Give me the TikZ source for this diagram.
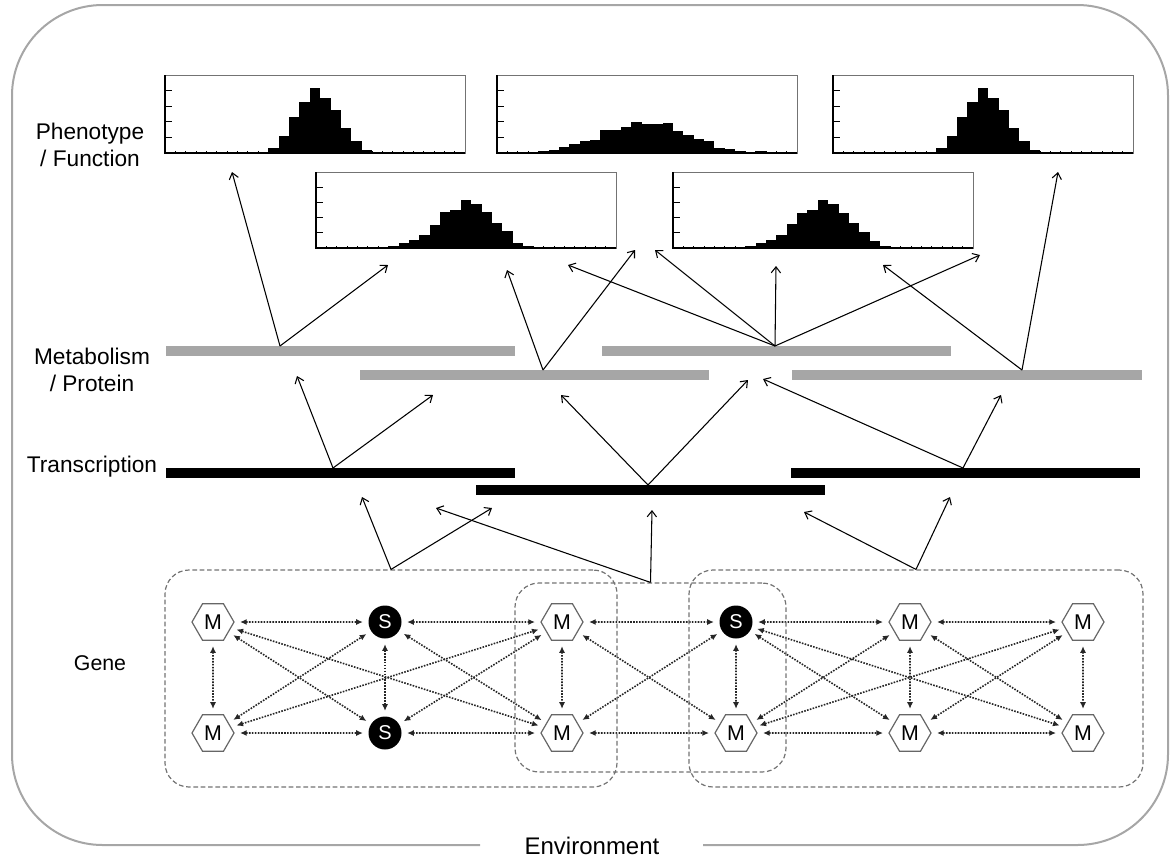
\documentclass[tikz,border=0pt]{standalone}
\usepackage{fontspec}
\setmainfont{Liberation Sans}
\usetikzlibrary{arrows.meta,shapes.geometric,fit}

\tikzset{
  lab/.style={font=\fontsize{17}{20}\selectfont, align=center},
  hexnode/.style={draw=black!60, line width=0.9pt, regular polygon, regular polygon sides=6,
    minimum size=31.5pt, inner sep=0pt, font=\fontsize{16}{16}\selectfont},
  snode/.style={circle, fill=black, text=white, minimum size=24.75pt, inner sep=0pt,
    font=\fontsize{15}{15}\selectfont},
  link/.style={black!85, line width=1.2pt, densely dotted,
    {Latex[length=5pt,width=4.5pt]}-{Latex[length=5pt,width=4.5pt]},
    shorten <=4pt, shorten >=4pt},
  groupbox/.style={draw=black!55, line width=0.9pt, dash pattern=on 3.5pt off 2pt,
    rounded corners=18pt, inner sep=0pt},
  greybar/.style={black!35, line width=7.5pt},
  blackbar/.style={black, line width=7.5pt},
  lvlarrow/.style={-{Straight Barb[length=4.5pt,width=7pt]}, line width=0.8pt},
  histframe/.style={draw=black!55, line width=0.75pt},
  envline/.style={draw=black!35, line width=1.5pt, rounded corners=68pt},
}

% histogram: left, top, height, bin/value list (29 bins over 300)
\newcommand{\histo}[4]{%
  \begin{scope}[shift={(#1,#2)}]
    \draw[histframe] (0,0) rectangle (300,#3);
    \foreach \k in {1,...,28} \draw[line width=0.6pt] (\k*300/29,#3) -- ++(0,-2.5);
    \foreach \f in {0.2,0.4,0.6,0.8} \draw[line width=0.6pt] (0,#3-\f*#3) -- ++(7,0);
    \foreach \k/\v in {#4} \fill (\k*300/29,#3) rectangle ++(300/29,-\v*#3);
    \draw[line width=0.9pt] (0,0) -- (0,#3) -- (300,#3);
  \end{scope}}

\begin{document}
\begin{tikzpicture}[x=0.75pt,y=-0.75pt]
  \useasboundingbox (0,0) rectangle (1174,858);

  % environment frame
  \draw[envline] (480,845) -- (12,845) -- (12,5) -- (1168,5) -- (1168,845) -- (703,845);
  \node[font=\fontsize{18}{18}\selectfont] (env) at (592,846) {Environment};

  % level labels
  \node[lab] (phen) at (90,145) {Phenotype\\/ Function};
  \node[lab] (meta) at (92,370) {Metabolism\\/ Protein};
  \node[lab] (trans) at (92,467) {Transcription};
  \node[lab, font=\fontsize{16}{16}\selectfont] (gene) at (100,663) {Gene};

  % phenotype distributions
  \histo{165}{75}{78}{10/.06,11/.22,12/.46,13/.65,14/.83,15/.71,16/.55,17/.32,18/.15,19/.04}
  \histo{497}{75}{78}{4/.03,5/.04,6/.08,7/.11,8/.16,9/.17,10/.29,11/.29,12/.33,13/.40,14/.37,
    15/.37,16/.38,17/.28,18/.23,19/.18,20/.15,21/.06,22/.05,23/.03,25/.03}
  \histo{833}{75}{78}{10/.06,11/.22,12/.46,13/.65,14/.83,15/.71,16/.55,17/.32,18/.15,19/.04}
  \histo{316}{172}{76}{7/.02,8/.06,9/.10,10/.17,11/.30,12/.47,13/.50,14/.63,15/.58,16/.47,
    17/.33,18/.22,19/.07,20/.03,21/.01}
  \histo{673}{172}{76}{7/.02,8/.06,9/.10,10/.17,11/.31,12/.46,13/.50,14/.63,15/.58,16/.46,
    17/.33,18/.21,19/.09,20/.03,21/.01}

  % metabolism / protein bars
  \draw[greybar] (166,351) -- (515,351);
  \draw[greybar] (360,375) -- (709,375);
  \draw[greybar] (602,351) -- (951,351);
  \draw[greybar] (792,375) -- (1142,375);
  \coordinate (pm1) at (280,346);
  \coordinate (pm2) at (543,370);
  \coordinate (pm3) at (775,346);
  \coordinate (pm4) at (1022,370);

  % transcription bars
  \draw[blackbar] (166,473) -- (515,473);
  \draw[blackbar] (476,490) -- (825,490);
  \draw[blackbar] (791,473) -- (1140,473);
  \coordinate (tr1) at (333,468);
  \coordinate (tr2) at (648,485);
  \coordinate (tr3) at (963,468);

  % arrow ends
  \coordinate (h1) at (232,172);
  \coordinate (h2) at (388,265);
  \coordinate (h3) at (507,270);
  \coordinate (h4) at (635,250);
  \coordinate (h5) at (568,265);
  \coordinate (h6) at (655,250);
  \coordinate (h7) at (776,266);
  \coordinate (h8) at (980,255);
  \coordinate (h9) at (883,265);
  \coordinate (h10) at (1058,172);
  \coordinate (p1) at (297,376);
  \coordinate (p2) at (433,395);
  \coordinate (p3) at (561,395);
  \coordinate (p4) at (748,380);
  \coordinate (p5) at (763,379);
  \coordinate (p6) at (1001,395);
  \coordinate (q1) at (362,497);
  \coordinate (q2) at (492,508);
  \coordinate (q3) at (436,508);
  \coordinate (q4) at (652,510);
  \coordinate (q5) at (804,512);
  \coordinate (q6) at (950,497);

  \draw[lvlarrow] (pm1) -- (h1);
  \draw[lvlarrow] (pm1) -- (h2);
  \draw[lvlarrow] (pm2) -- (h3);
  \draw[lvlarrow] (pm2) -- (h4);
  \foreach \t in {h5,h6,h7,h8} \draw[lvlarrow] (pm3) -- (\t);
  \draw[lvlarrow] (pm4) -- (h9);
  \draw[lvlarrow] (pm4) -- (h10);

  \draw[lvlarrow] (tr1) -- (p1);
  \draw[lvlarrow] (tr1) -- (p2);
  \draw[lvlarrow] (tr2) -- (p3);
  \draw[lvlarrow] (tr2) -- (p4);
  \draw[lvlarrow] (tr3) -- (p5);
  \draw[lvlarrow] (tr3) -- (p6);

  % genes
  \node[hexnode] (gt1) at (213,622) {M};
  \node[hexnode] (gb1) at (213,733) {M};
  \node[snode] (gt2) at (385,622) {S};
  \node[snode] (gb2) at (385,733) {S};
  \node[hexnode] (gt3) at (562,622) {M};
  \node[hexnode] (gb3) at (562,733) {M};
  \node[snode] (gt4) at (736,622) {S};
  \node[hexnode] (gb4) at (736,733) {M};
  \node[hexnode] (gt5) at (910,622) {M};
  \node[hexnode] (gb5) at (910,733) {M};
  \node[hexnode] (gt6) at (1083,622) {M};
  \node[hexnode] (gb6) at (1083,733) {M};

  \foreach \c in {1,...,6} \draw[link] (gt\c) -- (gb\c);
  \foreach \a/\b in {1/2,2/3,3/4,4/5,5/6}{
    \draw[link] (gt\a) -- (gt\b);
    \draw[link] (gb\a) -- (gb\b);
    \draw[link] (gt\a) -- (gb\b);
    \draw[link] (gb\a) -- (gt\b);}
  \foreach \a/\b in {1/3,4/6}{
    \draw[link] (gt\a) -- (gb\b);
    \draw[link] (gb\a) -- (gt\b);}

  % gene groups
  \node[groupbox, fit={(165,570) (617,787)}] (grpA) {};
  \node[groupbox, fit={(515,583) (786,772)}] (grpB) {};
  \node[groupbox, fit={(689,570) (1143,787)}] (grpD) {};

  \draw[lvlarrow] (grpA.north) -- (q1);
  \draw[lvlarrow] (grpA.north) -- (q2);
  \draw[lvlarrow] (grpB.north) -- (q3);
  \draw[lvlarrow] (grpB.north) -- (q4);
  \draw[lvlarrow] (grpD.north) -- (q5);
  \draw[lvlarrow] (grpD.north) -- (q6);
\end{tikzpicture}
\end{document}
